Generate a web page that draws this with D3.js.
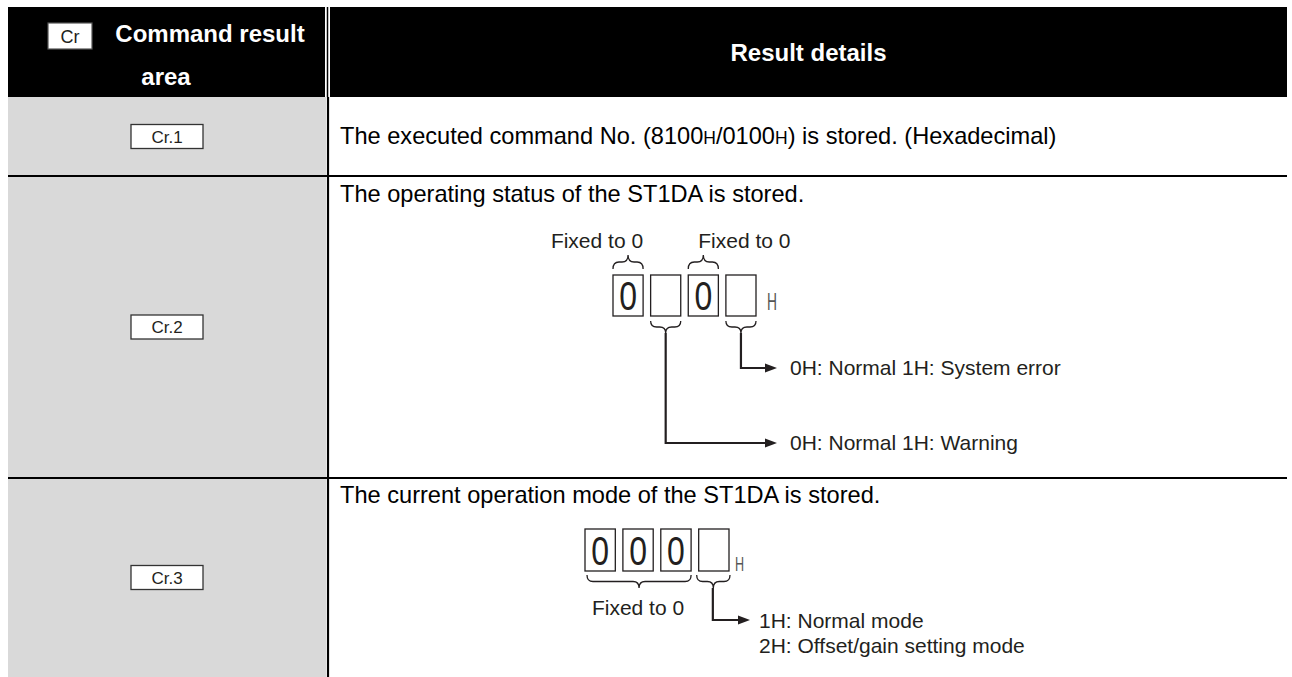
<!DOCTYPE html>
<html><head><meta charset="utf-8">
<script src="https://cdn.jsdelivr.net/npm/d3@7"></script>
<style>body{margin:0;background:#fff}text{font-family:"Liberation Sans",Arial,sans-serif}</style>
</head><body>
<svg id="c" width="1292" height="677"></svg>
<script>
// ---- data ----
const headerBadge = "Cr";
const headerLeft = ["Command result", "area"];
const headerRight = "Result details";
const rowLabels = ["Cr.1", "Cr.2", "Cr.3"];
const row1Parts = [["The executed command No. (8100", false], ["H", true], ["/0100", false], ["H", true], [") is stored. (Hexadecimal)", false]];
const row2Text = "The operating status of the ST1DA is stored.";
const row3Text = "The current operation mode of the ST1DA is stored.";
const row2Digits = ["0", "", "0", ""];
const row3Digits = ["0", "0", "0", ""];
const fixedLabel = "Fixed to 0";
const hexSuffix = "H";
const row2Notes = ["0H: Normal 1H: System error", "0H: Normal 1H: Warning"];
const row3Notes = ["1H: Normal mode", "2H: Offset/gain setting mode"];

// ---- layout ----
const svg = d3.select("#c");
const L = 8, R = 1287, colX = 327.5;
const rowY = d3.scaleOrdinal().domain([0, 1, 2, 3]).range([97, 176, 478, 677]);
const ink = "#231f20";
const bodySize = 23.6;

// header
svg.append("rect").attr("x", L).attr("y", 7).attr("width", 325 - L).attr("height", 90).attr("fill", "#000");
svg.append("rect").attr("x", 330).attr("y", 7).attr("width", R - 330).attr("height", 90).attr("fill", "#000");
svg.append("line").attr("x1", colX).attr("x2", colX).attr("y1", 7).attr("y2", 97).attr("stroke", "#000").attr("stroke-width", 1.5);
svg.append("rect").attr("x", 48).attr("y", 23).attr("width", 44).attr("height", 26).attr("fill", "#fff").attr("stroke", "#555").attr("stroke-width", 1.2);
svg.append("text").attr("x", 70).attr("y", 42.5).attr("text-anchor", "middle").attr("font-size", 18).attr("fill", ink).text(headerBadge);
svg.append("text").attr("x", 210).attr("y", 42).attr("text-anchor", "middle").attr("font-size", 24).attr("font-weight", "bold").attr("fill", "#fff").text(headerLeft[0]);
svg.append("text").attr("x", 166).attr("y", 85).attr("text-anchor", "middle").attr("font-size", 24).attr("font-weight", "bold").attr("fill", "#fff").text(headerLeft[1]);
svg.append("text").attr("x", (330 + R) / 2).attr("y", 61).attr("text-anchor", "middle").attr("font-size", 24).attr("font-weight", "bold").attr("fill", "#fff").text(headerRight);

// body left column
svg.append("rect").attr("x", L).attr("y", rowY(0)).attr("width", 326 - L).attr("height", rowY(3) - rowY(0)).attr("fill", "#d9d9d9");
svg.append("line").attr("x1", colX + 0.5).attr("x2", colX + 0.5).attr("y1", rowY(0)).attr("y2", rowY(3)).attr("stroke", "#000").attr("stroke-width", 2.2);
[1, 2].forEach(i => svg.append("line").attr("x1", L).attr("x2", R).attr("y1", rowY(i)).attr("y2", rowY(i)).attr("stroke", "#000").attr("stroke-width", 2.2));

rowLabels.forEach((lab, i) => {
  const cy = (rowY(i) + rowY(i + 1)) / 2;
  svg.append("rect").attr("x", 131).attr("y", cy - 12).attr("width", 72).attr("height", 24).attr("fill", "#fff").attr("stroke", "#333").attr("stroke-width", 1.3);
  svg.append("text").attr("x", 167).attr("y", cy + 6).attr("text-anchor", "middle").attr("font-size", 17).attr("fill", ink).text(lab);
});

// body texts
const t1 = svg.append("text").attr("x", 340).attr("y", 144).attr("font-size", bodySize).attr("fill", "#000");
row1Parts.forEach(([s, small]) => t1.append("tspan").attr("font-size", small ? 17.5 : bodySize).text(s));
svg.append("text").attr("x", 340).attr("y", 202).attr("font-size", bodySize).attr("fill", "#000").text(row2Text);
svg.append("text").attr("x", 340).attr("y", 503).attr("font-size", bodySize).attr("fill", "#000").text(row3Text);

// helpers
function brace(x0, x1, yEnd, yTip) {
  const xm = (x0 + x1) / 2, ym = (yEnd + yTip) / 2, r = Math.min(6, (x1 - x0) / 5);
  return `M${x0},${yEnd} Q${x0},${ym} ${x0 + r},${ym} L${xm - r},${ym} Q${xm},${ym} ${xm},${yTip} Q${xm},${ym} ${xm + r},${ym} L${x1 - r},${ym} Q${x1},${ym} ${x1},${yEnd}`;
}
function drawBrace(x0, x1, yEnd, yTip) {
  svg.append("path").attr("d", brace(x0, x1, yEnd, yTip)).attr("fill", "none").attr("stroke", ink).attr("stroke-width", 1.3);
}
function arrow(x, yFrom, yTo, xTip) {
  svg.append("path").attr("d", `M${x},${yFrom} V${yTo} H${xTip - 10}`).attr("fill", "none").attr("stroke", ink).attr("stroke-width", 2.2);
  svg.append("path").attr("d", `M${xTip},${yTo} L${xTip - 12},${yTo - 4.5} L${xTip - 12},${yTo + 4.5} Z`).attr("fill", ink);
}
function boxes(digits, x, y0, y1) {
  digits.forEach((d, i) => {
    svg.append("rect").attr("x", x(i)).attr("y", y0).attr("width", x.bandwidth()).attr("height", y1 - y0).attr("fill", "#fff").attr("stroke", ink).attr("stroke-width", 1.3);
    if (d) svg.append("text").attr("transform", `translate(${x(i) + x.bandwidth() / 2},${y1 - 6}) scale(0.78,1)`).attr("text-anchor", "middle").attr("font-size", 41).attr("fill", ink).text(d);
  });
}

// row 2 diagram
const x2 = d3.scaleBand().domain(d3.range(row2Digits.length)).range([613, 756]).paddingInner(0.2).paddingOuter(0);
boxes(row2Digits, x2, 275, 316);
svg.append("text").attr("transform", `translate(767,310) scale(0.6,1)`).attr("font-family", "DejaVu Sans").attr("font-weight", 200).attr("font-size", 23).attr("fill", "#555").text(hexSuffix);
drawBrace(x2(0), x2(0) + x2.bandwidth(), 269, 255);
drawBrace(x2(2), x2(2) + x2.bandwidth(), 269, 255);
svg.append("text").attr("x", x2(0) + x2.bandwidth()).attr("y", 248).attr("text-anchor", "end").attr("font-size", 21).attr("fill", ink).text(fixedLabel);
svg.append("text").attr("x", x2(2) + 10).attr("y", 248).attr("font-size", 21).attr("fill", ink).text(fixedLabel);
drawBrace(x2(1), x2(1) + x2.bandwidth(), 321, 333);
drawBrace(x2(3), x2(3) + x2.bandwidth(), 321, 333);
arrow(x2(3) + x2.bandwidth() / 2, 333, 368, 777);
arrow(x2(1) + x2.bandwidth() / 2, 333, 443, 777);
svg.append("text").attr("x", 790).attr("y", 375).attr("font-size", 21).attr("fill", ink).text(row2Notes[0]);
svg.append("text").attr("x", 790).attr("y", 450).attr("font-size", 21).attr("fill", ink).text(row2Notes[1]);

// row 3 diagram
const x3 = d3.scaleBand().domain(d3.range(row3Digits.length)).range([585, 729]).paddingInner(0.2).paddingOuter(0);
boxes(row3Digits, x3, 529, 571);
svg.append("text").attr("transform", `translate(735,571) scale(0.6,1)`).attr("font-family", "DejaVu Sans").attr("font-weight", 200).attr("font-size", 21).attr("fill", "#555").text(hexSuffix);
drawBrace(x3(0) + 2, x3(2) + x3.bandwidth(), 575, 588);
svg.append("text").attr("x", (x3(0) + x3(2) + x3.bandwidth()) / 2).attr("y", 615).attr("text-anchor", "middle").attr("font-size", 21).attr("fill", ink).text(fixedLabel);
drawBrace(x3(3) - 2, x3(3) + x3.bandwidth() + 1, 575, 588);
arrow(x3(3) + x3.bandwidth() / 2 - 1, 588, 620, 750);
svg.append("text").attr("x", 759).attr("y", 628).attr("font-size", 21).attr("fill", ink).text(row3Notes[0]);
svg.append("text").attr("x", 759).attr("y", 653).attr("font-size", 21).attr("fill", ink).text(row3Notes[1]);
</script>
</body></html>
